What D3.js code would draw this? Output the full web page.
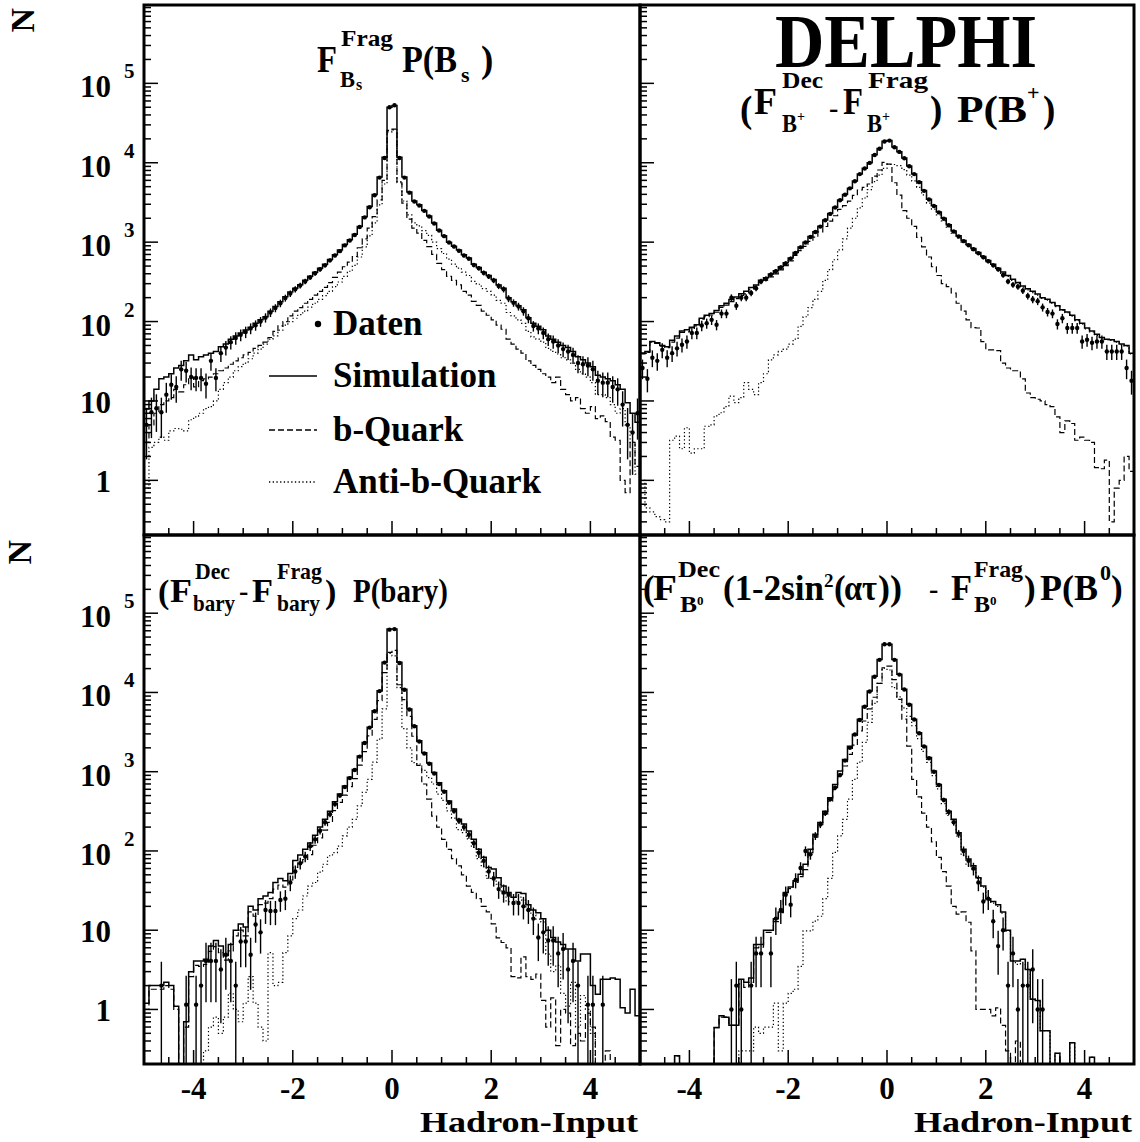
<!DOCTYPE html>
<html><head><meta charset="utf-8">
<script src="https://cdn.jsdelivr.net/npm/d3@7/dist/d3.min.js"></script>
<style>
body{margin:0;background:#fff}
svg{display:block}
text{font-family:"Liberation Serif","Times New Roman",serif;font-weight:bold;fill:#000}
</style>
</head><body>
<svg id="c" width="1140" height="1142"></svg>
<script>
// ---------- axis / label data ----------
const xRange = [-5, 5];
const binWidth = 0.1;
const xTicksMajor = [-4, -2, 0, 2, 4];
const xTickLabels = ["-4", "-2", "0", "2", "4"];
const yDomain = [0.205, 9.7e5];
const yTickValues = [1, 10, 100, 1000, 10000, 100000];
const yTickLabels = [["1",""],["10",""],["10","2"],["10","3"],["10","4"],["10","5"]];
const legendLabels = ["Daten", "Simulation", "b-Quark", "Anti-b-Quark"];
const xTitle = "Hadron-Input";
const yTitle = "N";
const dataErrScale = 2;

// ---------- panel 1 : B_s ----------
const bsSim = [7.9,10,14,19,20,22,26,28,32,38,
 33,36,38,40,42,48,52,60,66,72,
 78,85,95,105,115,135,155,178,205,235,
 262,290,331,372,417,468,525,603,692,794,
 933,1070,1260,1580,2090,2820,3980,6600,11700,50100,
 52500,11700,6600,4270,3310,2950,2510,2140,1740,1410,
 1200,1000,891,794,692,631,525,479,417,380,
 339,288,263,200,178,158,141,112,95,87,
 79,66,60,55,50,47,42,36,33,30,
 27,21,20,19,18,16,14,9.5,7,5.4];
const bsB = [3,5,7,9,10,11,14,13,16,20,
 15,18,19,20,22,24,26,29,32,35,
 38,41,46,50,55,63,75,88,100,118,
 135,150,170,190,215,240,270,310,360,420,
 490,560,660,850,1100,1500,2100,3400,6000,25500,
 26500,5600,3100,1950,1500,1300,1050,880,700,540,
 450,370,330,290,240,215,180,160,135,120,
 105,90,80,60,52,45,40,32,28,25,
 22,20,17,20,14,12,10,11,8,7,
 8.5,6,6.5,5.5,3.5,3.2,1.0,0.7,3.0,1.5];
const bsAnti = [0.8,2.6,3.0,3.5,3.2,4.2,4.5,4.4,4.2,5.8,
 6.3,7.0,8.0,8.5,10,14,17,20,24,27,
 30,34,40,45,52,60,66,78,90,100,
 110,122,135,152,170,190,212,240,275,315,
 370,430,510,650,870,1200,1750,2950,5400,24500,
 26000,5800,3300,2200,1750,1600,1400,1220,1000,830,
 720,610,530,470,420,380,320,295,260,240,
 215,185,170,130,118,105,95,75,64,60,
 55,46,42,39,35,33,30,25,22,20,
 17,12,12,11,9,7,8,5,3,1.2];
const bsData = [5,7.2,8.1,7.2,12,16,15,25,24,20,
 19.5,19.5,16.5,32,19.5,40,47,55,62,68,
 74,82,90,100,112,130,148,170,198,225,
 255,285,320,360,405,455,510,590,680,770,
 910,1050,1230,1550,2050,2750,3900,6500,11500,50000,
 53000,11500,6500,4200,3250,2900,2480,2100,1720,1400,
 1190,990,880,780,680,620,515,470,410,370,
 330,280,255,195,172,155,135,110,88,82,
 72,60,56,50,45,42,38,30,29,28,
 25,18,17,17,15,14,9,5,4,7];

// ---------- panel 2 : B+ ----------
const bpSim = [40,42,56,54,50,48,58,66,76,79,
 85,91,110,120,126,138,158,170,190,204,
 224,240,269,288,331,355,398,437,490,550,
 631,741,871,1000,1175,1350,1585,1905,2290,2750,
 3390,3980,4790,5890,7240,8510,10000,12600,15100,18600,
 19100,15800,13800,11500,9120,7240,5750,4470,3470,2880,
 2400,2000,1660,1380,1200,1050,933,832,741,661,
 589,525,468,420,380,340,310,280,258,240,
 222,200,191,174,158,141,132,120,105,95,
 83,76,69,63,60,59,56,52,50,40];
const bpB = [39,41,55,53,49,47,55,62,73,74,
 82,88,107,115,121,131,151,161,178,194,
 213,223,255,276,314,333,365,399,448,505,
 579,681,784,885,1025,1160,1345,1575,1840,2150,
 2590,2880,3290,3890,4540,4910,5400,6800,8100,10100,
 9600,5600,3900,2500,2000,1580,1150,870,650,490,
 380,300,275,229,170,135,105,84,83,56,
 44,44,43,30,26,24,24,19,12.6,11,
 10.5,10,9,8.5,6.3,4.0,5.6,5.2,3.2,3.5,
 3.2,3.0,1.45,1.4,1.8,0.3,0.8,1.0,2.0,1.3];
const bpAnti = [1.0,0.45,0.4,0.35,0.32,0.3,3.2,3.6,2.5,4.6,
 2.2,2.5,2.5,4.8,5.0,6.5,7.1,8.5,11.5,9.5,
 11,17,14,12,17,22,33,38,42,45,
 52,60,87,115,150,190,240,330,450,600,
 800,1100,1500,2000,2700,3600,4600,5800,7000,8500,
 9500,9500,9200,8200,7000,5900,4900,3950,3100,2600,
 2200,1850,1550,1300,1130,1000,890,795,710,635,
 568,507,452,405,370,330,300,272,250,232,
 215,195,186,170,154,138,129,117,103,93,
 81,74,67,62,59,58,55,51,49,39];
const bpData = [26,19,35,32,44,35,40,46,51,56,
 72,72,89,95,105,91,126,126,200,158,
 200,200,229,263,320,345,390,430,480,540,
 620,730,860,990,1160,1340,1570,1890,2270,2730,
 3370,3950,4760,5850,7200,8450,9950,12500,15000,18500,
 19000,15700,13700,11400,9050,7200,5700,4430,3440,2850,
 2370,1970,1630,1360,1180,1030,915,815,725,645,
 575,510,455,385,320,290,275,245,210,190,
 180,151,132,126,93,110,83,83,83,56,
 59,54,56,56,42,42,42,42,26,18];

// ---------- panel 3 : baryons ----------
const baSim = [1.2,2.0,2.0,2.0,2.2,2.0,1.1,0,0.7,3.0,
 4.1,4.1,4.3,6.3,7.4,6.3,4.8,6.6,10,12,
 11,20,18,25,27,30,40,45,42,52,
 76,89,105,126,158,200,251,316,417,525,
 661,851,1070,1580,2340,3630,5890,10500,24000,63000,
 63000,24000,11000,6170,3800,2450,1740,1290,977,724,
 575,427,339,251,219,178,141,105,83,62,
 59,46,36,30,26,30,29,21,18,16.6,
 14,10,8.1,7.1,6.6,5.8,5.8,4.1,5.0,5.0,
 2.0,1.55,2.4,2.4,2.5,2.4,1.05,0.9,1.8,0.83];
const baB = [1.0,1.8,1.8,1.8,2.0,1.8,1.0,0,0.6,2.6,
 3.6,3.5,3.7,5.4,6.2,5.2,4.2,5.5,8.5,10,
 8.5,17,15,21,22,25,33,37,35,43,
 62,71,78,90,118,146,183,229,322,410,
 506,650,820,1210,1790,2830,4570,7900,17800,32000,
 34000,12500,8100,5000,2800,1200,700,450,275,200,
 140,105,80,65,50,36,30,25,20,17,
 12,8,7,6,2.6,2.5,4.6,2.6,2.4,2.8,
 1.3,0.6,1.4,0.35,1.0,0.9,0.35,0.5,0.4,0.9,
 0.6,0,0,0.3,0,0,0,0,0,0];
const baAnti = [0,0,0,0,0,0,0,0,0,0,
 0,0,0.3,0.6,0.8,0.5,0.8,1.6,1.0,0.7,
 1.2,2.6,1.2,0.6,0.4,5.2,2.0,2.2,5.2,8.5,
 14,18,27,36,40,54,68,87,95,115,
 155,200,250,370,550,800,1320,2570,6200,31000,
 29000,11500,3500,2000,1300,1250,1040,840,700,520,
 435,320,260,186,170,142,111,80,63,45,
 47,38,29,23,23,27,24,18,15.6,13.8,
 12.7,5,3,3.6,1.6,1.1,2.2,0.6,1.5,1.0,
 0.5,0,0,0,0,0,0,0,0,0];
const baData = [0,0,0,2,0,0,0,0,1.15,0,
 1.15,2,4.1,4.1,4.1,3.2,4.9,4.1,2.0,7.2,
 7.2,4.9,11.8,9.4,18,17.5,17.5,24,25,40,
 55,70,85,115,140,180,230,290,390,500,
 640,830,1050,1550,2300,3600,5800,10400,23800,62000,
 63000,23500,10800,6100,3750,2400,1700,1260,950,700,
 560,410,320,240,200,160,125,95,75,55,
 45,33,30,28,22,22,20,18,14,8.1,
 9.4,7.4,7.4,5.1,5.8,3.2,4.1,2.0,0,1.15,
 1.15,0,1.15,0,0,0,0,0,0,0];

// ---------- panel 4 : B0 ----------
const b0Sim = [0,0,0,0,0,0,0,0.26,0,0,
 0,0,0,0,0,0.59,0.83,0.8,0.63,0.63,
 2.4,2.2,2.5,6.6,6.6,10,10,14,17,30,
 35,42,51,68,105,162,229,316,470,690,
 1020,1430,2100,2960,4600,6700,10400,16000,26000,40700,
 40700,26000,17000,11000,7100,4600,3100,2100,1510,1020,
 690,450,316,251,170,105,79,65,46,36,
 25,23,21,17,10,4.1,4.1,4.3,3.2,1.35,
 1.3,0.54,0.54,0,0.28,0,0,0.38,0,0,
 0,0.25,0,0,0,0,0,0,0,0];
const b0B = [0,0,0,0,0,0,0,0.26,0,0,
 0,0,0,0,0,0.59,0.8,0.8,0.63,0.63,
 2.1,1.9,2.2,6.0,6.1,9.4,9.4,12.8,16.7,28.8,
 33.4,40.2,47.5,58,95,149,214,291,425,594,
 865,1180,1650,2160,3280,4360,6200,8700,13000,20500,
 21500,14500,8200,4600,2100,800,480,300,200,130,
 83,55,36,20,16,17,12.6,5.5,1.0,1.0,
 1.0,0.83,1.05,0.63,0.3,0,0.4,0,0,0,
 0,0,0,0,0,0,0,0,0,0,
 0,0,0,0,0,0,0,0,0,0];
const b0Anti = [0,0,0,0,0,0,0,0,0,0,
 0,0,0,0,0,0,0,0,0,0,
 0.3,0.3,0.3,0.6,0.5,0.6,0.6,1.2,0.3,1.2,
 1.6,1.8,3.5,9.8,9.8,13,15,25,45,96,
 155,250,450,800,1320,2340,4200,7300,13000,20200,
 19200,11500,8800,6400,5000,3800,2620,1800,1310,890,
 607,395,280,231,154,88,66,59,45,35,
 24,22,20,16.4,9.7,4.1,3.7,4.3,3.2,1.35,
 1.3,0.54,0.54,0,0.28,0,0,0.38,0,0,
 0,0.25,0,0,0,0,0,0,0,0];
const b0Data = [0,0,0,0,0,0,0,0,0,0,
 0,0,0,0,0,0,0,0,1.0,2.0,
 1.0,0,2.0,5.1,5.1,0,5.1,14,18,28,
 21,43,61,100,91,155,215,300,450,630,
 910,1380,2000,2950,4500,6600,10300,15800,25800,40500,
 40500,25800,16800,10900,7000,4550,3050,2080,1480,1000,
 680,440,310,230,165,100,75,60,40,23,
 25,13,6.3,10,2,5.1,1,2,2,3.2,
 1,1,0,0,0,0,0,0,0,0,
 0,0,0,0,0,0,0,0,0,0];

// ---------- layout ----------
const W = 1140, H = 1142;
const colX = [[144, 640], [640, 1134]];
const rowY = [[5, 535], [535, 1064]];
const panels = [
  {sim: bsSim, bq: bsB, anti: bsAnti, data: bsData, col: 0, row: 0},
  {sim: bpSim, bq: bpB, anti: bpAnti, data: bpData, col: 1, row: 0},
  {sim: baSim, bq: baB, anti: baAnti, data: baData, col: 0, row: 1},
  {sim: b0Sim, bq: b0B, anti: b0Anti, data: b0Data, col: 1, row: 1}
];
const DASH = "6,3", DOT = "1.3,2.4";

const svg = d3.select("#c");
svg.append("rect").attr("width", W).attr("height", H).attr("fill", "#fff");
const defs = svg.append("defs");

panels.forEach((p, idx) => {
  const [x0, x1] = colX[p.col], [y0, y1] = rowY[p.row];
  const x = d3.scaleLinear().domain(xRange).range([x0, x1]);
  const y = d3.scaleLog().domain(yDomain).range([y1, y0]);
  const yc = v => y(Math.max(v, yDomain[0]));
  const cid = "clip" + idx;
  defs.append("clipPath").attr("id", cid).append("rect")
    .attr("x", x0).attr("y", y0).attr("width", x1 - x0).attr("height", y1 - y0);
  const g = svg.append("g").attr("clip-path", `url(#${cid})`);
  const step = vals => {
    const pts = vals.map((v, i) => [x(xRange[0] + i * binWidth), yc(v)]);
    pts.push([x(xRange[1]), yc(vals[vals.length - 1])]);
    return d3.line().curve(d3.curveStepAfter)(pts);
  };
  g.append("path").attr("d", step(p.anti)).attr("fill", "none").attr("stroke", "#000")
    .attr("stroke-width", 1.2).attr("stroke-dasharray", DOT);
  g.append("path").attr("d", step(p.bq)).attr("fill", "none").attr("stroke", "#000")
    .attr("stroke-width", 1.2).attr("stroke-dasharray", DASH);
  g.append("path").attr("d", step(p.sim)).attr("fill", "none").attr("stroke", "#000")
    .attr("stroke-width", 1.5);
  // data points with error bars
  p.data.forEach((v, i) => {
    if (v <= 0) return;
    const cx = x(xRange[0] + (i + 0.5) * binWidth);
    const e = Math.sqrt(dataErrScale * v);
    g.append("line").attr("x1", cx).attr("x2", cx)
      .attr("y1", yc(v + e)).attr("y2", yc(v - e))
      .attr("stroke", "#000").attr("stroke-width", 1.4);
    g.append("circle").attr("cx", cx).attr("cy", yc(v)).attr("r", 2.2).attr("fill", "#000");
  });

  // ticks
  const tg = svg.append("g").attr("stroke", "#000").attr("stroke-width", 1.5);
  y.ticks().forEach(t => {
    const lg = Math.log10(t);
    const major = Math.abs(lg - Math.round(lg)) < 1e-6;
    tg.append("line").attr("x1", x0).attr("x2", x0 + (major ? 14 : 7))
      .attr("y1", y(t)).attr("y2", y(t));
  });
  x.ticks(20).forEach(t => {
    if (t <= xRange[0] || t >= xRange[1]) return;
    const major = xTicksMajor.includes(t);
    tg.append("line").attr("x1", x(t)).attr("x2", x(t))
      .attr("y1", y1).attr("y2", y1 - (major ? 14 : 7));
  });

  // frame
  svg.append("rect").attr("x", x0).attr("y", y0).attr("width", x1 - x0).attr("height", y1 - y0)
    .attr("fill", "none").attr("stroke", "#000").attr("stroke-width", 3);

  // y tick labels (left column)
  if (p.col === 0) {
    yTickValues.forEach((t, k) => {
      const [base, ex] = yTickLabels[k];
      svg.append("text").attr("x", 111).attr("y", y(t) + (ex ? 14 : 12))
        .attr("text-anchor", "end").attr("font-size", 31).text(base);
      if (ex) svg.append("text").attr("x", 124).attr("y", y(t) - 5)
        .attr("font-size", 21).text(ex);
    });
    svg.append("text").attr("transform", `translate(${p.row ? 31 : 34},${p.row ? 540 : 8}) rotate(-90)`)
      .attr("text-anchor", "end").attr("font-size", 34).text(yTitle);
  }
  // x tick labels and title (bottom row)
  if (p.row === 1) {
    xTicksMajor.forEach((t, k) => {
      svg.append("text").attr("x", x(t)).attr("y", 1099).attr("text-anchor", "middle")
        .attr("font-size", 31).text(xTickLabels[k]);
    });
    svg.append("text").attr("x", x1 - 2).attr("y", 1132).attr("text-anchor", "end")
      .attr("font-size", 30).attr("textLength", 218).attr("lengthAdjust", "spacingAndGlyphs")
      .text(xTitle);
  }
});

// ---------- titles ----------
// piece: [text, x, baseline, font-size, textLength(optional), weight(optional)]
function put(pieces) {
  pieces.forEach(([t, px, py, fs, len, w]) => {
    const el = svg.append("text").attr("x", px).attr("y", py).attr("font-size", fs).text(t);
    if (len) el.attr("textLength", len).attr("lengthAdjust", "spacingAndGlyphs");
    if (w) el.attr("font-weight", w);
  });
}
// B_s
put([["F",317,72,37,20],["Frag",341,46,23,52],["B",340,87,23,15],["s",356,90,16],
     ["P(B",402,72,37,55],["s",461,82,22],[")",481,72,37]]);
// B+
put([["(",740,122,37],["F",754,114,37,23],["Dec",782,88,24,41],["B",782,132,25,15],["+",797,121,14],
     ["-",829,117,28],["F",843,114,37,20],["Frag",868,88,24,60],["B",867,132,25,15],["+",882,121,14],
     [")",930,122,37],["P(B",957,122,37,70],["+",1027,100,22],[")",1043,122,37]]);
svg.append("text").attr("x", 775).attr("y", 67).attr("font-size", 76)
  .attr("textLength", 262).attr("lengthAdjust", "spacingAndGlyphs").text("DELPHI");
// baryons
put([["(",158,603,34],["F",170,602,34,22],["Dec",195,579,23,35],["bary",193,611,23,42],
     ["-",239,600,28],["F",252,602,34,21],["Frag",277,579,23,45],["bary",277,611,23,43],
     [")",325,603,34],["P(bary)",353,602,34,95]]);
// B0
put([["(",643,600,35],["F",653,600,35,24],["Dec",678,577,23,42],["B",680,612,23,17],["0",697,605,13],
     ["(1-2sin",723,600,35,101],["2",824,587,19],["(",834,600,35],["ατ",844,600,35,33,"normal"],
     ["))",878,600,35,24],["-",929,598,28],["F",951,600,35,21],["Frag",974,577,23,49],
     ["B",974,612,23,16],["0",990,605,13],[")",1024,600,35],["P(B",1040,600,35,58],
     ["0",1100,580,22],[")",1111,600,35]]);

// ---------- legend ----------
const legBase = [335, 387, 441, 493];
const leg = svg.append("g");
legendLabels.forEach((lab, k) => {
  leg.append("text").attr("x", 333).attr("y", legBase[k]).attr("font-size", 35).text(lab);
  const cy = legBase[k] - 11;
  if (k === 0) leg.append("circle").attr("cx", 318).attr("cy", cy).attr("r", 3.2).attr("fill", "#000");
  else leg.append("line").attr("x1", 269).attr("x2", 317).attr("y1", cy).attr("y2", cy)
    .attr("stroke", "#000").attr("stroke-width", k === 1 ? 1.6 : 1.3)
    .attr("stroke-dasharray", k === 2 ? DASH : (k === 3 ? DOT : null));
});
</script>
</body></html>
